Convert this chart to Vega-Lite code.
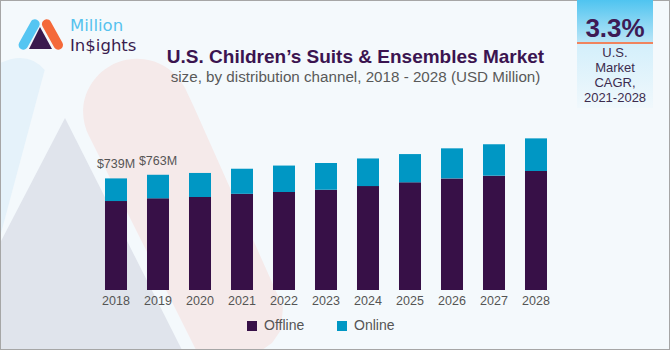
{
  "$schema": "https://vega.github.io/schema/vega-lite/v6.json",
  "background": "#f4f9fc",
  "padding": 0,
  "spacing": 0,
  "bounds": "full",
  "config": {
    "view": {"stroke": null},
    "font": "Liberation Sans"
  },
  "vconcat": [
    {
      "spacing": 0,
      "bounds": "flush",
      "hconcat": [
        {
          "width": 138,
          "height": 68,
          "data": {"values": [{}]},
          "layer": [
            {"mark": {"type": "point", "shape": "M -69 29 Q -41 16 -24.3 36 L -34.5 74 L -69 74 Z", "size": 4, "filled": true, "fill": "#e5f2fa", "opacity": 1, "strokeWidth": 0}},
            {"mark": {"type": "point", "shape": "M 14.2 74 A 54 54 0 0 1 116 54 L 125.4 74 Z", "size": 4, "filled": true, "fill": "#f5eaea", "opacity": 1, "strokeWidth": 0}},
            {"mark": {"type": "point", "shape": "M -69 -34 L 601 -34 L 601 -33 L -69 -33 Z M -69 -33 L -68 -33 L -68 74 L -69 74 Z M 600 -33 L 601 -33 L 601 74 L 600 74 Z", "size": 4, "filled": true, "fill": "#a6a6a6", "opacity": 1, "strokeWidth": 0}},
            {"mark": {"type": "point", "shape": "M -41.55 13.31 L -29.85 -7.69 A 4.75 4.75 0 0 0 -38.15 -12.31 L -49.85 8.69 A 4.75 4.75 0 0 0 -41.55 13.31 Z", "size": 4, "filled": true, "fill": "#55c5f2", "opacity": 1, "strokeWidth": 0}},
            {"mark": {"type": "point", "shape": "M -14.85 13.31 L -26.55 -7.69 A 4.75 4.75 0 0 1 -18.25 -12.31 L -6.55 8.69 A 4.75 4.75 0 0 1 -14.85 13.31 Z", "size": 4, "filled": true, "fill": "#f4693a", "opacity": 1, "strokeWidth": 0}},
            {"mark": {"type": "point", "shape": "M -29 -7 L -17 15 L -40 15 Z", "size": 4, "filled": true, "fill": "#3a1a4e", "opacity": 1, "strokeWidth": 0}},
            {"mark": {"type": "text", "text": "Million", "align": "left", "baseline": "alphabetic", "dx": 1, "dy": -3, "font": "DejaVu Sans", "fontSize": 16.5, "fill": "#55c2ee"}},
            {"mark": {"type": "text", "text": "In$ights", "align": "left", "baseline": "alphabetic", "dx": 1, "dy": 16.5, "font": "DejaVu Sans", "fontSize": 16.5, "fill": "#3a1d4f"}}
          ]
        },
        {
          "width": 439,
          "height": 108,
          "data": {"values": [{}]},
          "layer": [
            {"mark": {"type": "text", "text": "U.S. Children’s Suits & Ensembles Market", "fontWeight": "bold", "fontSize": 19, "fill": "#3b1450", "baseline": "alphabetic", "dy": 9.3, "dx": -2}},
            {"mark": {"type": "text", "text": "size, by distribution channel, 2018 - 2028 (USD Million)", "fontSize": 15.2, "fill": "#595959", "baseline": "alphabetic", "dy": 27.7, "dx": -2}}
          ]
        },
        {
          "width": 76,
          "height": 108,
          "data": {"values": [{}]},
          "layer": [
            {"mark": {"type": "rect", "fill": {"gradient": "linear", "x1": 0, "y1": 0, "x2": 0, "y2": 1, "stops": [
              {"offset": 0, "color": "#4fc4f0"},
              {"offset": 0.385, "color": "#b9e5f7"},
              {"offset": 0.385, "color": "#f0845e"},
              {"offset": 0.403, "color": "#f0845e"},
              {"offset": 0.403, "color": "#d3effb"},
              {"offset": 1, "color": "#f0f8fc"}
            ]}}, "encoding": {}},
            {"mark": {"type": "text", "text": "3.3%", "fontWeight": "bold", "fontSize": 26, "fill": "#3d1a55", "baseline": "alphabetic", "dy": -17.3}},
            {"mark": {"type": "text", "text": ["U.S.", "Market", "CAGR,", "2021-2028"], "fontSize": 13, "lineHeight": 14.9, "fill": "#3c2c4e", "baseline": "alphabetic", "dy": 3}}
          ]
        }
      ]
    },
    {
      "width": 670,
      "height": 242,
      "layer": [
        {
          "data": {"values": [{}]},
          "mark": {"type": "point", "shape": "M -335 -121 L -300.5 -121 L -335 8 Z", "size": 4, "filled": true, "fill": "#e5f2fa", "opacity": 1, "strokeWidth": 0}
        },
        {
          "data": {"values": [{}]},
          "mark": {"type": "point", "shape": "M -270 -111 L -153 121 L -335 121 L -335 14 Z", "size": 4, "filled": true, "fill": "#e0e4ec", "opacity": 1, "strokeWidth": 0}
        },
        {
          "data": {"values": [{}]},
          "mark": {"type": "point", "shape": "M -251.8 -121 A 54 54 0 0 0 -246 -93 L -139 121 L -73 121 L -63 114 L -54 101 L -52 78 L -140.6 -121 Z", "size": 4, "filled": true, "fill": "#f5eaea", "opacity": 1, "strokeWidth": 0}
        },
        {
          "data": {"values": [{}]},
          "mark": {"type": "point", "shape": "M -335 120 L 335 120 L 335 121 L -335 121 Z M -335 -121 L -334 -121 L -334 120 L -335 120 Z M 334 -121 L 335 -121 L 335 120 L 334 120 Z", "size": 4, "filled": true, "fill": "#a6a6a6", "opacity": 1, "strokeWidth": 0}
        },
        {
          "data": {"values": [
            {"year": "2018", "channel": "Offline", "value": 589},
            {"year": "2018", "channel": "Online", "value": 150},
            {"year": "2019", "channel": "Offline", "value": 607},
            {"year": "2019", "channel": "Online", "value": 156},
            {"year": "2020", "channel": "Offline", "value": 616},
            {"year": "2020", "channel": "Online", "value": 159},
            {"year": "2021", "channel": "Offline", "value": 637},
            {"year": "2021", "channel": "Online", "value": 166},
            {"year": "2022", "channel": "Offline", "value": 649},
            {"year": "2022", "channel": "Online", "value": 175},
            {"year": "2023", "channel": "Offline", "value": 664},
            {"year": "2023", "channel": "Online", "value": 177},
            {"year": "2024", "channel": "Offline", "value": 688},
            {"year": "2024", "channel": "Online", "value": 183},
            {"year": "2025", "channel": "Offline", "value": 713},
            {"year": "2025", "channel": "Online", "value": 187},
            {"year": "2026", "channel": "Offline", "value": 739},
            {"year": "2026", "channel": "Online", "value": 199},
            {"year": "2027", "channel": "Offline", "value": 757},
            {"year": "2027", "channel": "Online", "value": 208},
            {"year": "2028", "channel": "Offline", "value": 788},
            {"year": "2028", "channel": "Online", "value": 216}
          ]},
          "mark": {"type": "bar"},
          "encoding": {
            "x": {"field": "year", "type": "ordinal", "scale": {"range": [95, 557], "paddingInner": 0.476, "paddingOuter": 0.238},
              "axis": {"title": null, "labelAngle": 0, "domain": false, "ticks": false, "tickSize": 0, "labelPadding": 4, "offset": -60, "labelFontSize": 12.5, "labelColor": "#555555", "grid": false, "zindex": 1}},
            "y": {"field": "value", "type": "quantitative", "stack": "zero", "scale": {"domain": [-397, 1205], "nice": false, "zero": false}, "axis": null},
            "color": {"field": "channel", "type": "nominal", "scale": {"domain": ["Offline", "Online"], "range": ["#371047", "#0097c4"]},
              "legend": {"title": null, "orient": "none", "legendX": 245, "legendY": 319, "direction": "horizontal", "symbolType": "square", "symbolSize": 100, "symbolStrokeWidth": 0, "labelFontSize": 14, "labelColor": "#555555", "columnPadding": 30, "labelOffset": 5, "padding": 0, "zindex": 1}},
            "order": {"field": "channel"}
          }
        },
        {
          "data": {"values": [
            {"year": "2018", "total": 739, "label": "$739M"},
            {"year": "2019", "total": 763, "label": "$763M"}
          ]},
          "mark": {"type": "text", "baseline": "alphabetic", "dy": -10, "fontSize": 12.5, "fill": "#555555"},
          "encoding": {
            "x": {"field": "year", "type": "ordinal"},
            "y": {"field": "total", "type": "quantitative", "scale": {"domain": [-397, 1205], "nice": false, "zero": false}},
            "text": {"field": "label"}
          }
        }
      ]
    }
  ]
}
